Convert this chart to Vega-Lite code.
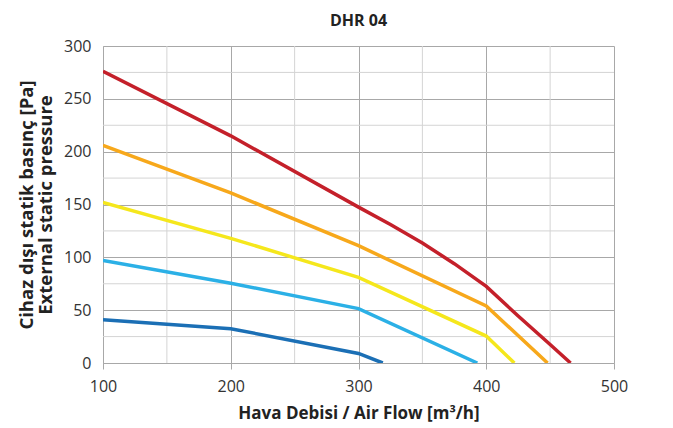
{
  "$schema": "https://vega.github.io/schema/vega-lite/v6.json",
  "width": 511,
  "height": 317,
  "autosize": "none",
  "padding": {"left": 103, "top": 46, "right": 59, "bottom": 65},
  "background": "white",
  "title": {"text": "DHR 04", "font": "Open Sans", "fontSize": 16, "fontWeight": "bold", "color": "#222222", "anchor": "middle", "offset": 9},
  "config": {
    "view": {"stroke": null},
    "axis": {"labelFont": "Open Sans", "titleFont": "Open Sans", "labelColor": "#333333", "titleColor": "#222222", "labelFontSize": 16, "titleFontSize": 17, "titleFontWeight": "bold", "grid": true, "gridColor": "#a8a8a8", "gridWidth": 1, "domainColor": "#a8a8a8", "tickColor": "#a8a8a8"}
  },
  "layer": [
    {
      "data": {"values": [{"flow": 150}, {"flow": 250}, {"flow": 350}, {"flow": 450}]},
      "mark": {"type": "rule", "color": "#d4d4d4", "strokeWidth": 1},
      "encoding": {"x": {"field": "flow", "type": "quantitative"}}
    },
    {
      "data": {"values": [{"pressure": 25}, {"pressure": 75}, {"pressure": 125}, {"pressure": 175}, {"pressure": 225}, {"pressure": 275}]},
      "mark": {"type": "rule", "color": "#d4d4d4", "strokeWidth": 1},
      "encoding": {"y": {"field": "pressure", "type": "quantitative"}}
    },
    {
      "data": {"values": [
        {"series": "s1", "flow": 100, "pressure": 41},
        {"series": "s1", "flow": 200, "pressure": 32.5},
        {"series": "s1", "flow": 300, "pressure": 9},
        {"series": "s1", "flow": 319, "pressure": 0},
        {"series": "s2", "flow": 100, "pressure": 97},
        {"series": "s2", "flow": 200, "pressure": 75.5},
        {"series": "s2", "flow": 300, "pressure": 51.5},
        {"series": "s2", "flow": 393, "pressure": 0},
        {"series": "s3", "flow": 100, "pressure": 152},
        {"series": "s3", "flow": 200, "pressure": 118},
        {"series": "s3", "flow": 300, "pressure": 81},
        {"series": "s3", "flow": 400, "pressure": 25.5},
        {"series": "s3", "flow": 422, "pressure": 0},
        {"series": "s4", "flow": 100, "pressure": 206},
        {"series": "s4", "flow": 200, "pressure": 161},
        {"series": "s4", "flow": 300, "pressure": 111},
        {"series": "s4", "flow": 400, "pressure": 54},
        {"series": "s4", "flow": 448, "pressure": 0},
        {"series": "s5", "flow": 100, "pressure": 276},
        {"series": "s5", "flow": 200, "pressure": 215},
        {"series": "s5", "flow": 300, "pressure": 147.5},
        {"series": "s5", "flow": 325, "pressure": 131},
        {"series": "s5", "flow": 350, "pressure": 113.5},
        {"series": "s5", "flow": 375, "pressure": 94},
        {"series": "s5", "flow": 400, "pressure": 72.5},
        {"series": "s5", "flow": 425, "pressure": 44.5},
        {"series": "s5", "flow": 450, "pressure": 17.5},
        {"series": "s5", "flow": 466, "pressure": 0}
      ]},
      "mark": {"type": "line", "strokeWidth": 3.5, "clip": true},
      "encoding": {
        "x": {"field": "flow", "type": "quantitative", "scale": {"domain": [100, 500], "nice": false, "zero": false},
              "axis": {"values": [100, 200, 300, 400, 500], "grid": true, "title": "Hava Debisi / Air Flow [m³/h]", "tickSize": 6, "labelPadding": 9, "titlePadding": 11, "labelFlush": false}},
        "y": {"field": "pressure", "type": "quantitative", "scale": {"domain": [0, 300], "nice": false},
              "axis": {"values": [0, 50, 100, 150, 200, 250, 300], "grid": true, "title": ["Cihaz dışı statik basınç [Pa]", "External static pressure"], "titleFontSize": 18.5, "titleLineHeight": 19, "ticks": false, "labelPadding": 12, "titlePadding": 8, "labelFlush": false}},
        "color": {"field": "series", "type": "nominal", "legend": null,
                  "scale": {"domain": ["s1", "s2", "s3", "s4", "s5"], "range": ["#1b6fb5", "#2bb0e6", "#f5e71c", "#f7a81b", "#c4202a"]}}
      }
    }
  ]
}
